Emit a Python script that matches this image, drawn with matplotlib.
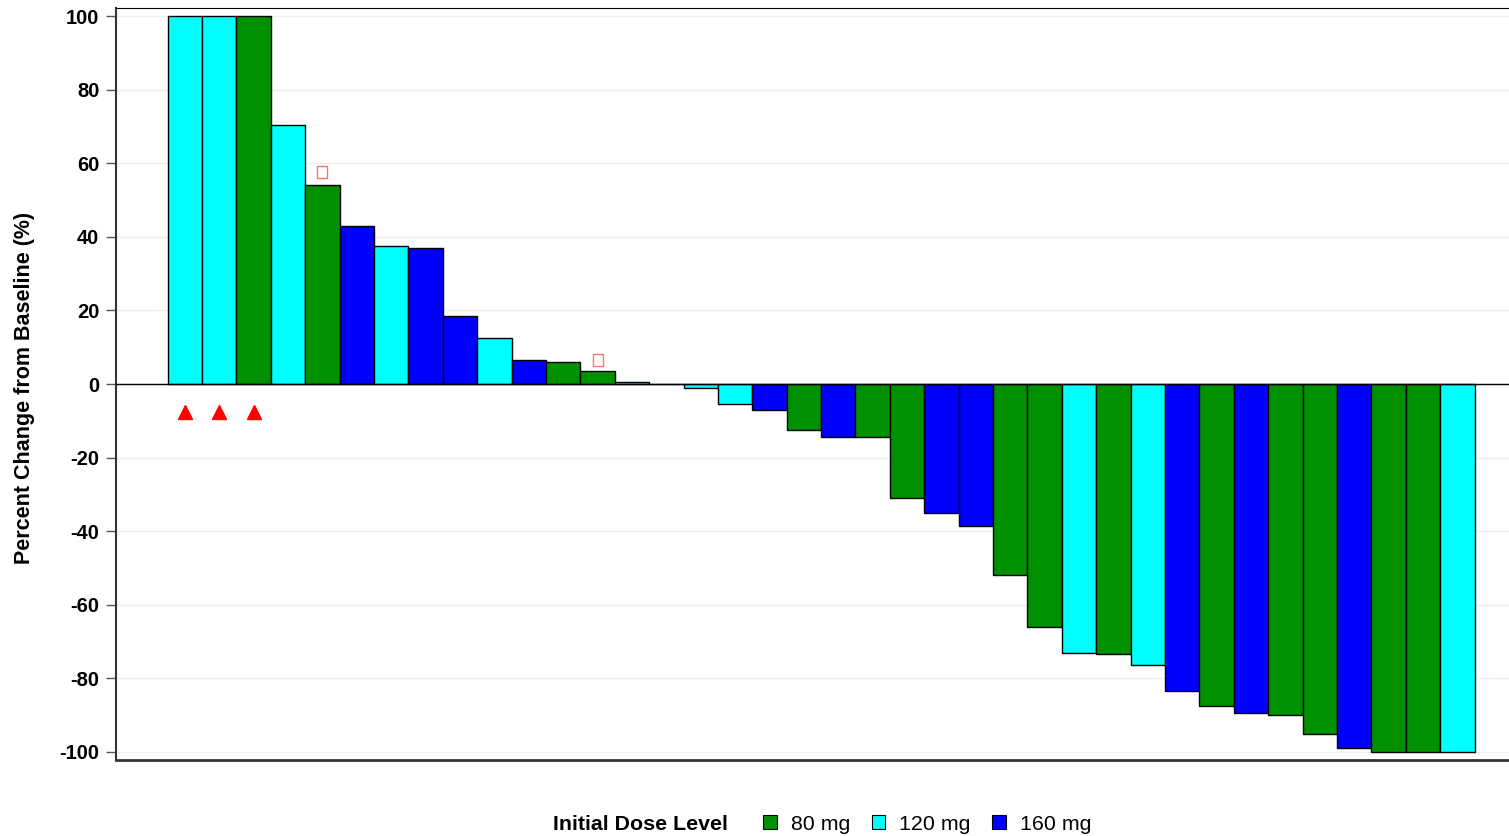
import matplotlib.pyplot as plt
from matplotlib.patches import Patch
import numpy as np

plt.rcParams['font.family'] = ['Liberation Sans', 'DejaVu Sans']
plt.rcParams['axes.unicode_minus'] = False

# percent change per patient, sorted as in the waterfall
change = [100, 100, 100, 70.5, 54, 43, 37.5, 37, 18.5, 12.5, 6.5, 6, 3.5, 0.5, 0,
          -1.1, -5.5, -7, -12.5, -14.5, -14.5, -31, -35, -38.5, -52, -66,
          -73, -73.5, -76.5, -83.5, -87.5, -89.5, -90, -95, -99, -100, -100, -100]
dose = ["120", "120", "80", "120", "80", "160", "120", "160", "160", "120", "160",
        "80", "80", "120", "80", "120", "120", "160", "80", "160", "80", "80",
        "160", "160", "80", "80", "120", "80", "120", "160", "80", "160", "80",
        "80", "160", "80", "80", "120"]
dose_levels = ["80", "120", "160"]
dose_colors = {"80": "#009000", "120": "#00ffff", "160": "#0000ff"}

# patients flagged with triangles below zero and open squares above the bar
tri_idx = [1, 2, 3]
tri_y = -7.6
sq_idx = [5, 13]
sq_y = [57.6, 6.5]

x = np.arange(1, len(change) + 1)
cols = [dose_colors[d] for d in dose]

fig = plt.figure(figsize=(15.09, 8.36), dpi=100)
ax = fig.add_axes([116 / 1509, 1 - 760 / 836, 1 - 116 / 1509, (760 - 8) / 836])

ax.bar(x, change, width=1.0, color=cols, edgecolor="black", linewidth=1.0, zorder=3)
ax.axhline(0, color="black", linewidth=1.0, zorder=4)
ax.plot(tri_idx, [tri_y] * len(tri_idx), linestyle="none", marker="^",
        color="red", markersize=10, zorder=5)
ax.plot(sq_idx, sq_y, linestyle="none", marker=[(-0.8, -1), (0.8, -1), (0.8, 1), (-0.8, 1), (-0.8, -1)],
        markersize=9, markerfacecolor="none", markeredgecolor="#ff7070",
        markeredgewidth=1.0, zorder=5)

ax.set_xlim(-1, 39.5)
ax.set_ylim(-102.2, 102.2)
ax.set_yticks(np.arange(-100, 101, 20))
ax.yaxis.grid(True, color="#eeeeee", linewidth=1.0, zorder=0)
ax.set_xticks([])
ax.tick_params(axis="y", length=7, width=1, color="#555555", labelsize=14.5, pad=5)
for lab in ax.get_yticklabels():
    lab.set_fontweight("bold")

ax.spines["right"].set_visible(False)
ax.spines["top"].set_color("black")
ax.spines["left"].set_color("#333333")
ax.spines["bottom"].set_color("#333333")
ax.spines["left"].set_linewidth(1.5)
ax.spines["bottom"].set_linewidth(2)

ax.set_ylabel("Percent Change from Baseline (%)", fontsize=15.5, fontweight="bold")
ax.yaxis.set_label_coords(-0.058, 0.495)

fig.text(553 / 1509, 1 - 824 / 836, "Initial Dose Level", fontsize=15.4,
         fontweight="bold", ha="left", va="center")
handles = [Patch(facecolor=dose_colors[d], edgecolor="black", linewidth=0.8)
           for d in dose_levels]
labels = [f"{d} mg" for d in dose_levels]
fig.legend(handles, labels, loc="center left", bbox_to_anchor=(763 / 1509, 1 - 824 / 836),
           ncol=3, frameon=False, fontsize=15.4, handlelength=0.65, handleheight=0.65,
           handletextpad=0.65, columnspacing=1.0, borderaxespad=0, borderpad=0)

fig.savefig("out.png", dpi=100)
